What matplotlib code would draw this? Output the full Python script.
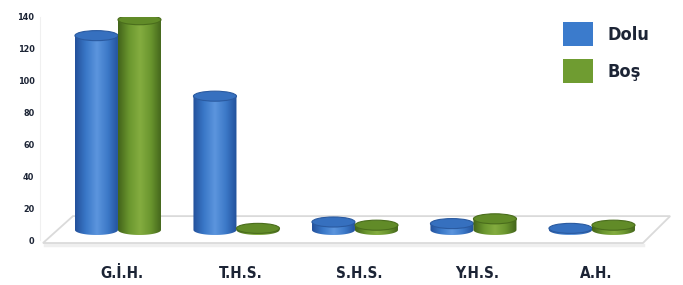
import numpy as np
import matplotlib
matplotlib.use('Agg')
import matplotlib.pyplot as plt
from matplotlib.patches import Ellipse, Polygon, PathPatch, Patch
from matplotlib.path import Path
from matplotlib.colors import LinearSegmentedColormap

categories = ['G.İ.H.', 'T.H.S.', 'S.H.S.', 'Y.H.S.', 'A.H.']
dolu = [122, 84, 5, 4, 1]
bos = [132, 1, 3, 7, 3]
yticks = [0, 20, 40, 60, 80, 100, 120, 140]
series_names = ['Dolu', 'Boş']

plt.rcParams['font.family'] = ['DejaVu Sans']
plt.rcParams['font.stretch'] = 'condensed'
txt = '#1c2435'

#          dark edge   mid        light      mid        dark edge
blue_cm = LinearSegmentedColormap.from_list('b', ['#23509a', '#3a78c8', '#5c95de', '#3c79c8', '#22509a'])
green_cm = LinearSegmentedColormap.from_list('g', ['#42631a', '#6a962e', '#84ad40', '#6a952e', '#41621a'])
cap_col = {'b': ('#3670bf', '#2a5aa0'), 'g': ('#618b28', '#4a6d1c')}

fig = plt.figure(figsize=(6.83, 2.85), dpi=100)
ax = fig.add_axes([40 / 683, 45 / 285, 640 / 683, 223 / 285])

w = 0.363      # bar width in category units
base = 6.3     # floor middle, where cylinders stand
eh = 6.3       # height of an elliptical cap in data units

# floor
floor = Polygon([(-0.633, -1.9), (-0.38, 15), (4.66, 15), (4.43, -1.9)], closed=True,
                facecolor='white', edgecolor='#dadada', lw=1.3, clip_on=False, zorder=1)
ax.add_patch(floor)
ax.plot([-0.62, 4.43], [-3.0, -3.0], color='#efefef', lw=2.5, clip_on=False, zorder=0.5)
ax.plot([-0.658, -0.658], [0, 140], color='#f0f0f0', lw=0.8, clip_on=False, zorder=0.5)


def cylinder(cx, v, cmap, key, z):
    x0, x1 = cx - w / 2, cx + w / 2
    top = base + v
    t = np.linspace(np.pi, 2 * np.pi, 40)
    ex = cx + w / 2 * np.cos(t)
    ey = base + eh / 2 * np.sin(t)
    verts = [(x0, top)] + list(zip(ex, ey)) + [(x1, top), (x0, top)]
    codes = [Path.MOVETO] + [Path.LINETO] * (len(verts) - 2) + [Path.CLOSEPOLY]
    body = PathPatch(Path(verts, codes), facecolor='none', edgecolor='none', zorder=z)
    ax.add_patch(body)
    grad = np.linspace(0, 1, 256).reshape(1, -1)
    im = ax.imshow(grad, cmap=cmap, extent=(x0, x1, base - eh / 2, top), aspect='auto',
                   interpolation='bicubic', zorder=z)
    im.set_clip_path(body)
    fc, ec = cap_col[key]
    ax.add_patch(Ellipse((cx, top), w, eh, facecolor=fc, edgecolor=ec, lw=0.8, zorder=z + 0.1))


for i in range(len(categories)):
    cylinder(i - w / 2, dolu[i], blue_cm, 'b', 2 + i)
    cylinder(i + w / 2, bos[i], green_cm, 'g', 2.5 + i)

ax.set_xlim(-0.658, 4.743)
ax.set_ylim(0, 140)

ax.set_yticks(yticks)
ax.set_yticklabels([str(t) for t in yticks], fontsize=6.5, fontweight='bold', color=txt)
ax.set_xticks(np.arange(len(categories)) + 0.035)
ax.set_xticklabels(categories, fontsize=11, fontweight='bold', color=txt)
ax.tick_params(axis='y', length=0, pad=4)
ax.tick_params(axis='x', length=0, pad=19)
for s in ax.spines.values():
    s.set_visible(False)

handles = [Patch(facecolor='#3b7bcc', edgecolor='none'), Patch(facecolor='#6f9c31', edgecolor='none')]
leg = fig.legend(handles, series_names, loc='upper left', bbox_to_anchor=(563 / 683, 263 / 285),
                 frameon=False, borderpad=0, borderaxespad=0, handlelength=1.65, handleheight=1.65,
                 handletextpad=0.8, labelspacing=0.75, prop={'size': 13, 'weight': 'bold'})
for t in leg.get_texts():
    t.set_color(txt)

fig.savefig('out.png', dpi=100)
